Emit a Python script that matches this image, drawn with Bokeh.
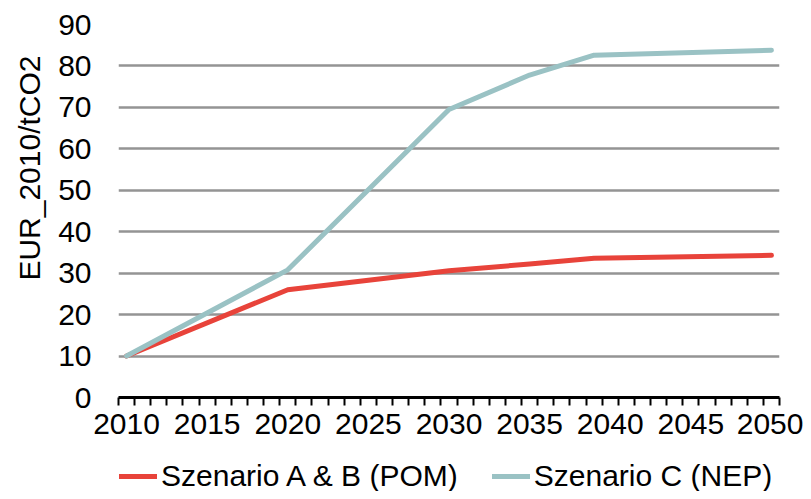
from bokeh.plotting import figure
from bokeh.layouts import column
from bokeh.models import FixedTicker, Range1d, Legend, LegendItem, Title
from bokeh.embed import file_html
from bokeh.resources import INLINE

# ---- data ----
years_pom = [2010, 2020, 2030, 2035, 2039, 2050]
values_pom = [10.0, 26.0, 30.6, 32.2, 33.6, 34.3]
years_nep = [2010, 2020, 2030, 2035, 2039, 2050]
values_nep = [10.0, 30.8, 69.5, 77.8, 82.6, 83.8]
x_tick_years = [2010, 2015, 2020, 2025, 2030, 2035, 2040, 2045, 2050]
y_ticks = [0, 10, 20, 30, 40, 50, 60, 70, 80, 90]
series_names = ["Szenario A & B (POM)", "Szenario C (NEP)"]
y_title = "EUR_2010/tCO2"

FONT = "Liberation Sans"
FS = "30px"
RED = "#E8433A"
TEAL = "#9AC2C4"

first_year, last_year = x_tick_years[0], x_tick_years[-1]

p = figure(width=803, height=452, output_backend="svg", toolbar_location=None,
           x_range=Range1d(first_year - 0.5, last_year + 0.5),
           y_range=Range1d(y_ticks[0], y_ticks[-1]),
           min_border_left=117, min_border_right=24, min_border_top=24,
           min_border_bottom=55)
p.outline_line_color = None
p.background_fill_color = "white"
p.border_fill_color = "white"

# grid
p.xgrid.grid_line_color = None
p.ygrid.grid_line_color = "#949494"
p.ygrid.grid_line_width = 2.5
p.ygrid.ticker = FixedTicker(ticks=y_ticks)

# y axis
p.yaxis.ticker = FixedTicker(ticks=y_ticks)
p.yaxis.axis_line_color = None
p.yaxis.major_tick_line_color = None
p.yaxis.minor_tick_line_color = None
p.yaxis.major_tick_out = 0
p.yaxis.major_tick_in = 0
p.yaxis.major_label_standoff = 27
p.yaxis.major_label_text_font = FONT
p.yaxis.major_label_text_font_size = FS
p.yaxis.major_label_text_color = "black"

# x axis
bounds = [first_year - 0.5 + i for i in range(last_year - first_year + 2)]
p.xaxis.ticker = FixedTicker(ticks=x_tick_years, minor_ticks=bounds)
p.xaxis.axis_line_color = "black"
p.xaxis.axis_line_width = 3
p.xaxis.major_tick_line_color = None
p.xaxis.major_tick_out = 8
p.xaxis.major_tick_in = 0
p.xaxis.minor_tick_line_color = "black"
p.xaxis.minor_tick_line_width = 2
p.xaxis.minor_tick_out = 8
p.xaxis.minor_tick_in = 0
p.xaxis.major_label_standoff = 8
p.xaxis.major_label_text_font = FONT
p.xaxis.major_label_text_font_size = FS
p.xaxis.major_label_text_color = "black"

# lines
p.line(years_pom, values_pom, line_color=RED, line_width=5,
       line_cap="round", line_join="round")
p.line(years_nep, values_nep, line_color=TEAL, line_width=5,
       line_cap="round", line_join="round")

title = Title(text=y_title, align="right", offset=31,
              text_font=FONT, text_font_size=FS, text_font_style="normal",
              text_color="black", standoff=20)
p.add_layout(title, "left")

# legend strip below the chart (its frame is aligned with the chart's frame)
leg = figure(width=803, height=39, output_backend="svg", toolbar_location=None,
             x_range=Range1d(0, 1), y_range=Range1d(0, 1),
             x_axis_location=None, y_axis_location=None, min_border=0)
leg.outline_line_color = None
leg.grid.visible = False
# same series, outside this strip's view: only their legend samples show
l1 = leg.line(years_pom, values_pom, line_color=RED, line_width=5,
              line_cap="round")
l2 = leg.line(years_nep, values_nep, line_color=TEAL, line_width=5,
              line_cap="round")
legend = Legend(items=[LegendItem(label=series_names[0], renderers=[l1]),
                       LegendItem(label=series_names[1], renderers=[l2])],
                orientation="horizontal", location=(1, -2),
                label_text_font=FONT, label_text_font_size=FS,
                label_text_color="black",
                glyph_width=38, glyph_height=20, label_standoff=4,
                spacing=34, padding=0, margin=0,
                border_line_color=None, background_fill_alpha=0)
leg.add_layout(legend, "center")

layout = column(p, leg, spacing=0)
open("out.html", "w").write(file_html(layout, INLINE))
